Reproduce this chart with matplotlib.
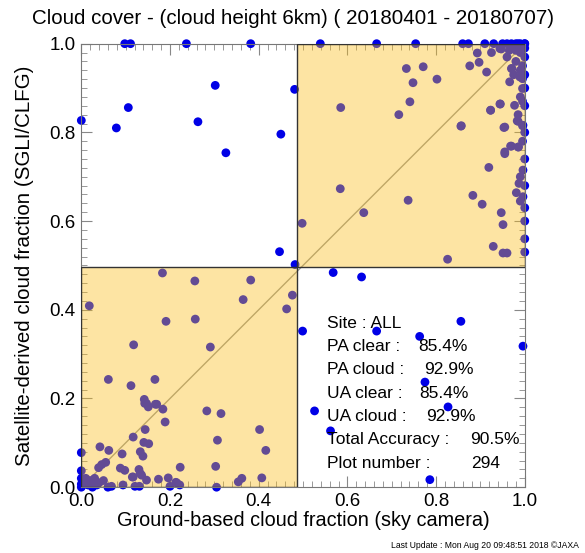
import numpy as np
import matplotlib
matplotlib.use('Agg')
import matplotlib.pyplot as plt
from matplotlib.patches import Rectangle
from matplotlib.ticker import MultipleLocator

plt.rcParams['font.family'] = ['Liberation Sans', 'DejaVu Sans']

# ground-based (sky camera) vs satellite cloud fraction
ground = [
    # disagree: clear on ground, cloudy from satellite
    0.0, 0.079, 0.106, 0.263, 0.302, 0.326, 0.450, 0.481, 0.447, 0.482,
    0.098, 0.111, 0.237, 0.382,
    # disagree: cloudy on ground, clear from satellite
    0.568, 0.632, 0.499, 0.666, 0.763, 0.856, 0.996, 0.775, 0.827, 0.526, 0.562, 0.786,
    # top row
    0.539, 0.666, 0.754, 0.86, 0.873, 0.91, 0.93, 0.95, 0.96, 0.97, 0.98, 0.99, 1.0,
    # cloudy / cloudy
    0.733, 0.771, 0.748, 0.802, 0.741, 0.585, 0.716, 0.856, 0.876, 0.893, 0.897, 0.914,
    0.925, 0.944, 0.966, 0.971, 0.989, 0.923, 0.944, 0.977, 0.953, 0.983, 0.996, 0.968,
    0.985, 0.955, 0.919, 0.996, 0.987, 0.981, 0.996, 0.584, 0.737, 0.883, 0.904, 0.637,
    0.947, 0.951, 0.498, 0.929, 0.951, 0.960, 0.826, 0.947, 0.970, 0.995, 0.995, 0.995,
    0.945, 0.923, 0.857, 0.985, 0.995, 0.955, 0.970, 0.986, 0.955,
    0.96, 0.97, 0.98, 0.99, 1.0, 0.985, 0.995, 0.975, 1.0, 0.99, 0.965, 1.0, 0.99, 1.0,
    0.985, 1.0, 0.995, 1.0, 0.99, 1.0, 1.0, 0.99, 1.0, 1.0, 1.0, 1.0, 0.995, 0.98, 1.0,
    # clear / clear
    0.183, 0.256, 0.382, 0.018, 0.365, 0.476, 0.463, 0.191, 0.257, 0.118, 0.291, 0.061,
    0.166, 0.112, 0.142, 0.147, 0.151, 0.170, 0.184, 0.189, 0.283, 0.315, 0.402, 0.144,
    0.117, 0.141, 0.152, 0.307, 0.416, 0.042, 0.062, 0.092, 0.133, 0.139, 0.055, 0.046,
    0.039, 0.088, 0.098, 0.130, 0.133, 0.115, 0.147, 0.174, 0.196, 0.223, 0.303, 0.362,
    0.354, 0.407, 0.213, 0.222, 0.068, 0.094, 0.121, 0.131, 0.200, 0.305, 0.136, 0.117,
    0.215, 0.143, 0.167,
    0.0, 0.0, 0.0, 0.0, 0.01, 0.02, 0.03, 0.04, 0.05, 0.015, 0.025, 0.035, 0.06, 0.0, 0.008,
]
satellite = [
    0.827, 0.810, 0.856, 0.824, 0.906, 0.754, 0.796, 0.897, 0.531, 0.502,
    1.0, 1.0, 1.0, 1.0,
    0.484, 0.474, 0.352, 0.352, 0.340, 0.374, 0.318, 0.237, 0.181, 0.172, 0.127, 0.017,
    1.0, 1.0, 1.0, 1.0, 1.0, 1.0, 1.0, 1.0, 1.0, 1.0, 1.0, 1.0, 1.0,
    0.944, 0.948, 0.912, 0.920, 0.869, 0.856, 0.840, 0.814, 0.950, 0.979, 0.958, 0.936,
    0.980, 0.989, 0.914, 0.944, 0.925, 0.850, 0.864, 0.861, 0.811, 0.826, 0.816, 0.769,
    0.767, 0.752, 0.721, 0.715, 0.685, 0.664, 0.655, 0.673, 0.647, 0.658, 0.638, 0.619,
    0.619, 0.592, 0.595, 0.543, 0.528, 0.528, 0.514, 0.988, 0.944, 0.921, 0.899, 0.870,
    0.864, 0.850, 0.815, 0.825, 0.815, 0.812, 0.769, 0.767, 0.756,
    0.97, 0.99, 0.96, 0.98, 0.99, 1.0, 0.95, 0.93, 0.97, 0.94, 0.985, 0.90, 0.88, 0.86,
    0.84, 0.80, 0.78, 0.74, 0.70, 0.68, 0.63, 0.645, 0.60, 0.56, 0.53, 1.0, 0.995, 0.985, 0.93,
    0.483, 0.465, 0.467, 0.409, 0.423, 0.433, 0.402, 0.374, 0.379, 0.321, 0.316, 0.243,
    0.243, 0.229, 0.198, 0.189, 0.181, 0.187, 0.176, 0.147, 0.172, 0.166, 0.130, 0.130,
    0.113, 0.101, 0.098, 0.106, 0.083, 0.091, 0.083, 0.075, 0.080, 0.070, 0.056, 0.051,
    0.044, 0.043, 0.038, 0.040, 0.031, 0.023, 0.016, 0.018, 0.021, 0.045, 0.047, 0.020,
    0.012, 0.021, 0.011, 0.005, 0.002, 0.005, 0.002, 0.002, 0.002, 0.0, 0.027, 0.023,
    0.010, 0.189, 0.187,
    0.078, 0.037, 0.007, 0.0, 0.02, 0.015, 0.02, 0.01, 0.015, 0.005, 0.0, 0.005, 0.0, 0.02, 0.012,
]

stat_labels = ['Site : ALL', 'PA clear :', 'PA cloud :', 'UA clear :', 'UA cloud :',
               'Total Accuracy :', 'Plot number :']
stat_values = ['', '85.4%', '92.9%', '85.4%', '92.9%', '90.5%', '294']
value_x = [0, 0.759, 0.772, 0.762, 0.777, 0.876, 0.880]

fig = plt.figure(figsize=(5.85, 5.53), dpi=100)
ax = fig.add_axes([0.139, 0.119, 0.758, 0.802])

ax.plot([0, 1], [0, 1], color='#999999', lw=1, zorder=1)
ax.scatter(ground, satellite, s=40, color='#0000e6', edgecolors='none', zorder=2, clip_on=False)

yellow = (0.98, 0.74, 0.1)
ax.add_patch(Rectangle((0, 0), 0.4875, 0.497, facecolor=yellow, alpha=0.4, edgecolor='none', zorder=3))
ax.add_patch(Rectangle((0.4875, 0.497), 1 - 0.4875, 1 - 0.497, facecolor=yellow, alpha=0.4,
                       edgecolor='none', zorder=3))
ax.add_patch(Rectangle((0, 0), 0.4875, 0.497, fill=False, edgecolor='#333333', lw=1, zorder=4))
ax.add_patch(Rectangle((0.4875, 0.497), 1 - 0.4875, 1 - 0.497, fill=False, edgecolor='#333333',
                       lw=1, zorder=4))

ax.set_xlim(0, 1)
ax.set_ylim(0, 1)
ax.set_xticks(np.arange(0, 1.01, 0.2))
ax.set_yticks(np.arange(0, 1.01, 0.2))
ax.set_xticklabels(['%.1f' % v for v in np.arange(0, 1.01, 0.2)])
ax.set_yticklabels(['%.1f' % v for v in np.arange(0, 1.01, 0.2)])
ax.xaxis.set_minor_locator(MultipleLocator(0.02))
ax.yaxis.set_minor_locator(MultipleLocator(0.02))
ax.tick_params(which='both', direction='in', top=True, right=True, color='#888888', labelsize=13.5)
ax.tick_params(which='major', length=8, pad=4)
ax.tick_params(which='minor', length=4)
for sp in ax.spines.values():
    sp.set_color('#777777')
    sp.set_linewidth(0.8)

ax.set_xlabel('Ground-based cloud fraction (sky camera)', fontsize=14.3, labelpad=1)
ax.set_ylabel('Satellite-derived cloud fraction (SGLI/CLFG)', fontsize=14.8, labelpad=11)
fig.text(0.5, 0.967, 'Cloud cover - (cloud height 6km) ( 20180401 - 20180707)',
         ha='center', va='center', fontsize=14.8)

for i, (lab, val) in enumerate(zip(stat_labels, stat_values)):
    yy = 0.370 - i * 0.0526
    ax.text(0.554, yy, lab, fontsize=12.5, va='center', ha='left', zorder=5)
    if val:
        ax.text(value_x[i], yy, val, fontsize=12.5, va='center', ha='left', zorder=5)

fig.text(0.99, 0.014, 'Last Update : Mon Aug 20 09:48:51 2018 \u00a9JAXA', ha='right',
         va='center', fontsize=6.2)

fig.savefig('out.png', dpi=100)
